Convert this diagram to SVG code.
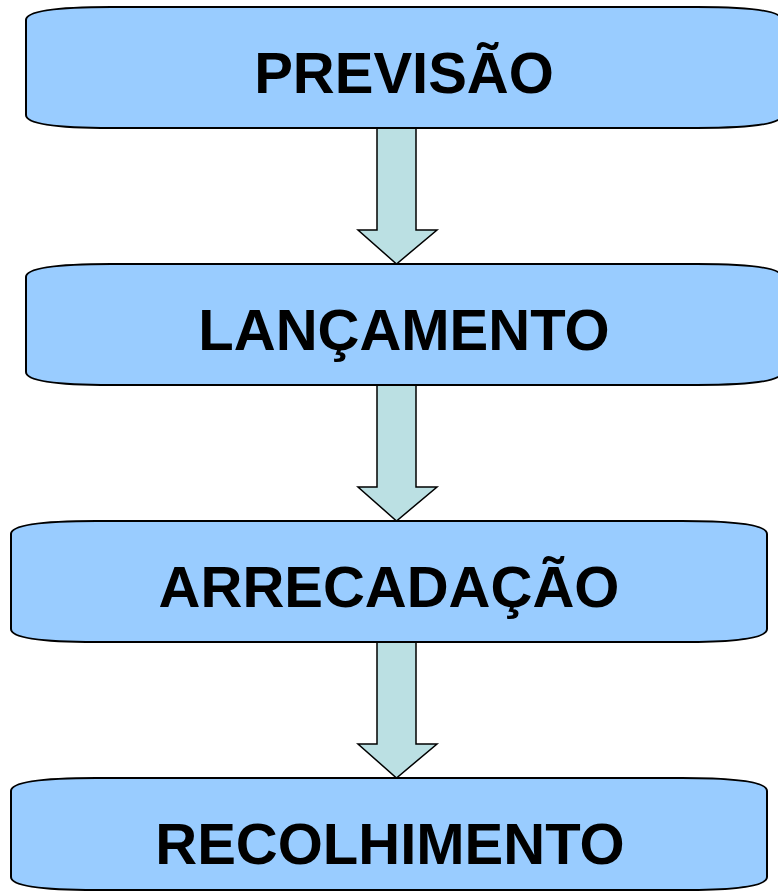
<svg xmlns="http://www.w3.org/2000/svg" width="778" height="894" viewBox="0 0 778 894">
<style>
.box{fill:#99CCFF;stroke:#000;stroke-width:2}
.arr{fill:#BBE0E3;stroke:#000;stroke-width:1.5;stroke-linejoin:miter}
.lbl{font-family:"Liberation Sans",Arial,sans-serif;font-weight:bold;font-size:58px;fill:#000;text-anchor:middle}
</style>
<rect width="778" height="894" fill="#fff"/>
<g id="connectors">
<path class="arr" d="M377,128 H416 V230 H437 L396.5,264 L358,230 H377 Z"/>
<path class="arr" d="M377,385 H416 V487 H437 L396.5,521 L358,487 H377 Z"/>
<path class="arr" d="M377,642 H416 V744 H437 L396.5,778 L358,744 H377 Z"/>
</g>
<g id="previsao">
<path class="box" d="M26,20 Q26,7 111,7 H697 Q782,7 782,20 V115 Q782,128 697,128 H111 Q26,128 26,115 Z"/>
<text class="lbl" x="404" y="93">PREVISÃO</text>
</g>
<g id="lancamento">
<path class="box" d="M26,277 Q26,264 111,264 H697 Q782,264 782,277 V372 Q782,385 697,385 H111 Q26,385 26,372 Z"/>
<text class="lbl" x="404" y="350">LANÇAMENTO</text>
</g>
<g id="arrecadacao">
<path class="box" d="M11,534 Q11,521 96,521 H682 Q767,521 767,534 V629 Q767,642 682,642 H96 Q11,642 11,629 Z"/>
<text class="lbl" x="389" y="607">ARRECADAÇÃO</text>
</g>
<g id="recolhimento">
<path class="box" d="M11,791 Q11,778 96,778 H682 Q767,778 767,791 V877 Q767,890 682,890 H96 Q11,890 11,877 Z"/>
<text class="lbl" x="390" y="864">RECOLHIMENTO</text>
</g>
</svg>
